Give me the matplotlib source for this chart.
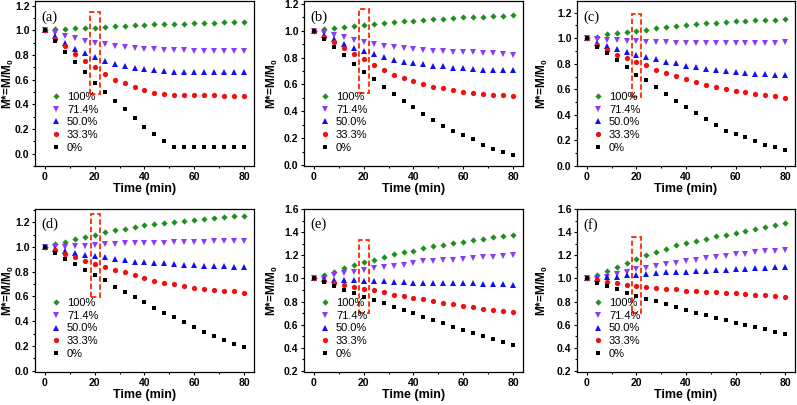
import matplotlib
matplotlib.use("Agg")
import matplotlib.pyplot as plt
from matplotlib.patches import Rectangle
from matplotlib.ticker import MultipleLocator

plt.rcParams["font.family"] = "Liberation Sans"
plt.rcParams["mathtext.fontset"] = "custom"
plt.rcParams["mathtext.rm"] = "Liberation Sans"
plt.rcParams["mathtext.bf"] = "Liberation Sans:bold"

# ─── DATA ───────────────────────────────────────────────────────────────────

TIME = [0, 4, 8, 12, 16, 20, 24, 28, 32, 36, 40, 44, 48, 52, 56, 60, 64, 68, 72, 76, 80]
LABELS = ["100%", "71.4%", "50.0%", "33.3%", "0%"]
PANELS = ["(a)", "(b)", "(c)", "(d)", "(e)", "(f)"]

A_100 = [1.00, 1.01, 1.01, 1.016, 1.02, 1.022, 1.027, 1.032, 1.038, 1.043, 1.046, 1.05, 1.05, 1.054, 1.054, 1.057, 1.06, 1.062, 1.065, 1.068, 1.07]
A_71 = [1.00, 0.98, 0.955, 0.935, 0.913, 0.897, 0.886, 0.873, 0.865, 0.86, 0.85, 0.848, 0.843, 0.84, 0.836, 0.835, 0.834, 0.833, 0.833, 0.832, 0.832]
A_50 = [1.00, 0.95, 0.90, 0.85, 0.815, 0.786, 0.75, 0.73, 0.71, 0.695, 0.684, 0.678, 0.67, 0.665, 0.662, 0.662, 0.661, 0.66, 0.66, 0.66, 0.66]
A_33 = [1.00, 0.93, 0.87, 0.81, 0.75, 0.70, 0.645, 0.60, 0.57, 0.54, 0.515, 0.495, 0.485, 0.478, 0.475, 0.474, 0.473, 0.472, 0.471, 0.47, 0.47]
A_0 = [1.00, 0.91, 0.825, 0.74, 0.66, 0.576, 0.50, 0.43, 0.36, 0.29, 0.22, 0.16, 0.105, 0.054, 0.055, 0.055, 0.055, 0.056, 0.055, 0.056, 0.057]

B_100 = [1.00, 1.01, 1.02, 1.03, 1.038, 1.045, 1.053, 1.058, 1.065, 1.07, 1.075, 1.08, 1.085, 1.09, 1.095, 1.10, 1.103, 1.105, 1.11, 1.113, 1.118]
B_71 = [1.00, 0.985, 0.967, 0.95, 0.932, 0.917, 0.902, 0.89, 0.877, 0.87, 0.864, 0.857, 0.85, 0.847, 0.842, 0.84, 0.84, 0.837, 0.832, 0.83, 0.822]
B_50 = [1.00, 0.967, 0.937, 0.90, 0.87, 0.847, 0.827, 0.804, 0.784, 0.77, 0.76, 0.75, 0.74, 0.734, 0.726, 0.724, 0.716, 0.71, 0.709, 0.706, 0.706]
B_33 = [1.00, 0.955, 0.917, 0.875, 0.83, 0.787, 0.744, 0.706, 0.673, 0.648, 0.626, 0.603, 0.583, 0.57, 0.558, 0.545, 0.535, 0.53, 0.525, 0.523, 0.515]
B_0 = [1.00, 0.942, 0.88, 0.82, 0.754, 0.693, 0.64, 0.583, 0.53, 0.477, 0.43, 0.38, 0.337, 0.29, 0.256, 0.226, 0.19, 0.15, 0.118, 0.093, 0.073]

C_100 = [1.00, 1.01, 1.03, 1.04, 1.05, 1.06, 1.068, 1.078, 1.086, 1.094, 1.10, 1.11, 1.118, 1.123, 1.128, 1.133, 1.136, 1.14, 1.144, 1.144, 1.15]
C_71 = [1.00, 0.995, 0.987, 0.985, 0.982, 0.977, 0.974, 0.971, 0.969, 0.966, 0.963, 0.963, 0.963, 0.963, 0.962, 0.962, 0.963, 0.963, 0.966, 0.966, 0.969]
C_50 = [1.00, 0.96, 0.937, 0.916, 0.893, 0.87, 0.856, 0.835, 0.817, 0.804, 0.786, 0.773, 0.762, 0.75, 0.74, 0.736, 0.73, 0.723, 0.718, 0.715, 0.712]
C_33 = [1.00, 0.95, 0.91, 0.872, 0.846, 0.814, 0.79, 0.754, 0.73, 0.705, 0.684, 0.656, 0.635, 0.617, 0.60, 0.59, 0.58, 0.565, 0.554, 0.546, 0.535]
C_0 = [1.00, 0.935, 0.888, 0.833, 0.778, 0.715, 0.672, 0.617, 0.565, 0.51, 0.46, 0.415, 0.367, 0.32, 0.275, 0.247, 0.225, 0.193, 0.167, 0.15, 0.123]

D_100 = [1.00, 1.02, 1.04, 1.065, 1.08, 1.10, 1.118, 1.134, 1.148, 1.16, 1.175, 1.183, 1.19, 1.205, 1.212, 1.22, 1.228, 1.237, 1.245, 1.247, 1.253]
D_71 = [1.00, 0.997, 0.997, 1.008, 1.01, 1.016, 1.02, 1.024, 1.03, 1.03, 1.032, 1.035, 1.035, 1.04, 1.043, 1.043, 1.043, 1.046, 1.048, 1.05, 1.05]
D_50 = [1.00, 0.987, 0.965, 0.952, 0.938, 0.925, 0.917, 0.906, 0.892, 0.882, 0.876, 0.87, 0.868, 0.863, 0.858, 0.855, 0.85, 0.85, 0.847, 0.842, 0.84]
D_33 = [1.00, 0.973, 0.946, 0.917, 0.887, 0.863, 0.836, 0.812, 0.796, 0.77, 0.747, 0.728, 0.712, 0.699, 0.685, 0.67, 0.66, 0.65, 0.645, 0.642, 0.63]
D_0 = [1.00, 0.952, 0.906, 0.863, 0.817, 0.774, 0.73, 0.68, 0.64, 0.597, 0.554, 0.51, 0.47, 0.433, 0.39, 0.352, 0.317, 0.282, 0.25, 0.218, 0.188]

E_100 = [1.00, 1.026, 1.058, 1.087, 1.113, 1.14, 1.162, 1.182, 1.208, 1.225, 1.242, 1.26, 1.277, 1.29, 1.306, 1.317, 1.33, 1.34, 1.355, 1.364, 1.375]
E_71 = [1.00, 0.995, 1.026, 1.043, 1.058, 1.072, 1.087, 1.098, 1.11, 1.118, 1.135, 1.147, 1.15, 1.156, 1.162, 1.17, 1.176, 1.185, 1.19, 1.196, 1.205]
E_50 = [1.00, 0.994, 0.986, 0.986, 0.983, 0.98, 0.977, 0.975, 0.972, 0.968, 0.965, 0.962, 0.96, 0.96, 0.96, 0.957, 0.957, 0.954, 0.95, 0.95, 0.945]
E_33 = [1.00, 0.98, 0.962, 0.942, 0.922, 0.91, 0.896, 0.882, 0.86, 0.844, 0.83, 0.818, 0.806, 0.79, 0.778, 0.763, 0.752, 0.737, 0.728, 0.72, 0.708]
E_0 = [1.00, 0.968, 0.937, 0.902, 0.873, 0.84, 0.812, 0.784, 0.752, 0.726, 0.697, 0.666, 0.64, 0.61, 0.58, 0.556, 0.53, 0.504, 0.478, 0.452, 0.425]

F_100 = [1.00, 1.03, 1.066, 1.10, 1.133, 1.167, 1.20, 1.225, 1.254, 1.286, 1.306, 1.326, 1.343, 1.364, 1.378, 1.398, 1.413, 1.428, 1.444, 1.46, 1.48]
F_71 = [1.00, 0.997, 1.014, 1.037, 1.058, 1.078, 1.09, 1.107, 1.124, 1.138, 1.147, 1.162, 1.173, 1.182, 1.193, 1.208, 1.216, 1.225, 1.234, 1.24, 1.25]
F_50 = [1.00, 0.995, 1.014, 1.017, 1.026, 1.03, 1.035, 1.046, 1.052, 1.058, 1.06, 1.063, 1.066, 1.07, 1.072, 1.078, 1.084, 1.087, 1.092, 1.095, 1.098]
F_33 = [1.00, 0.986, 0.968, 0.957, 0.945, 0.936, 0.922, 0.916, 0.91, 0.905, 0.893, 0.89, 0.885, 0.88, 0.876, 0.87, 0.862, 0.858, 0.856, 0.85, 0.84]
F_0 = [1.00, 0.965, 0.934, 0.905, 0.876, 0.85, 0.824, 0.804, 0.775, 0.752, 0.726, 0.70, 0.68, 0.657, 0.636, 0.616, 0.593, 0.576, 0.56, 0.54, 0.518]

SERIES = [
    [A_100, A_71, A_50, A_33, A_0],
    [B_100, B_71, B_50, B_33, B_0],
    [C_100, C_71, C_50, C_33, C_0],
    [D_100, D_71, D_50, D_33, D_0],
    [E_100, E_71, E_50, E_33, E_0],
    [F_100, F_71, F_50, F_33, F_0],
]

# dashed box round the 20 min points: (t0, t1, y0, y1)
BOXES = [
    (18.3, 22.2, 0.48, 1.15),
    (18.0, 22.0, 0.535, 1.163),
    (18.1, 21.9, 0.54, 1.188),
    (18.4, 22.1, 0.597, 1.27),
    (18.1, 22.1, 0.697, 1.33),
    (18.3, 21.9, 0.697, 1.358),
]

YLIMS = [(-0.1, 1.235), (-0.008, 1.22), (0.0, 1.29), (-0.01, 1.305), (0.19, 1.6), (0.19, 1.6)]
YTICKS = [
    [0.0, 0.2, 0.4, 0.6, 0.8, 1.0, 1.2],
    [0.0, 0.2, 0.4, 0.6, 0.8, 1.0, 1.2],
    [0.0, 0.2, 0.4, 0.6, 0.8, 1.0, 1.2],
    [0.0, 0.2, 0.4, 0.6, 0.8, 1.0, 1.2],
    [0.2, 0.4, 0.6, 0.8, 1.0, 1.2, 1.4, 1.6],
    [0.2, 0.4, 0.6, 0.8, 1.0, 1.2, 1.4, 1.6],
]

MARKERS = ["D", "v", "^", "o", "s"]
COLORS = ["#1f8f1f", "#8a3cf5", "#1010f0", "#f01010", "#000000"]
SIZES = [3.2, 4.0, 4.0, 3.8, 3.2]

# ─── FIGURE ─────────────────────────────────────────────────────────────────

fig = plt.figure(figsize=(7.97, 4.05), dpi=100)

# axes boxes in figure fractions (left, bottom, width, height)
lefts = [0.0439, 0.3814, 0.724]
widths = [0.2748, 0.2748, 0.2735]
bottoms = [0.590, 0.0815]
heights = [0.407, 0.402]
ylabel_x = [-0.123, -0.142, -0.16]

for i in range(6):
    row, col = divmod(i, 3)
    ax = fig.add_axes([lefts[col], bottoms[row], widths[col], heights[row]])

    for vals, lab, m, c, s in zip(SERIES[i], LABELS, MARKERS, COLORS, SIZES):
        ax.plot(TIME, vals, linestyle="none", marker=m, color=c, markersize=s,
                markeredgewidth=0, label=lab)

    t0, t1, y0, y1 = BOXES[i]
    ax.add_patch(Rectangle((t0, y0), t1 - t0, y1 - y0, fill=False,
                           edgecolor="#ff2a00", linestyle=(0, (3, 1.5)), linewidth=1.3))

    ax.set_xlim(-4, 84)
    ax.set_ylim(*YLIMS[i])
    ax.set_xticks([0, 20, 40, 60, 80])
    ax.set_yticks(YTICKS[i])
    ax.set_yticklabels([f"{v:.1f}" for v in YTICKS[i]])
    ax.xaxis.set_minor_locator(MultipleLocator(10))
    ax.yaxis.set_minor_locator(MultipleLocator(0.1))
    ax.tick_params(which="both", direction="out", top=False, right=False)
    ax.tick_params(which="major", length=2.5, width=0.8, labelsize=7.5, pad=1.5)
    ax.tick_params(which="minor", length=1.5, width=0.8)
    for lbl in ax.get_xticklabels() + ax.get_yticklabels():
        lbl.set_fontweight("bold")
    for sp in ax.spines.values():
        sp.set_linewidth(0.9)

    ax.set_xlabel("Time (min)", fontsize=9, fontweight="bold", labelpad=1)
    ax.set_ylabel(r"M*=M/M$_\mathbf{0}$", fontsize=8.5, fontweight="bold",
                  va="center")
    ax.yaxis.set_label_coords(ylabel_x[col], 0.5)

    ax.text(0.03, 0.905, PANELS[i], transform=ax.transAxes, ha="left", va="center",
            fontsize=10.5, family="Liberation Serif")

    ax.legend(loc="lower left", bbox_to_anchor=(0.075, 0.08), frameon=False,
              fontsize=8, handlelength=0.8, handletextpad=0.6, labelspacing=0.25,
              borderpad=0, borderaxespad=0, markerscale=1.0)

fig.savefig("out.png", dpi=100)
